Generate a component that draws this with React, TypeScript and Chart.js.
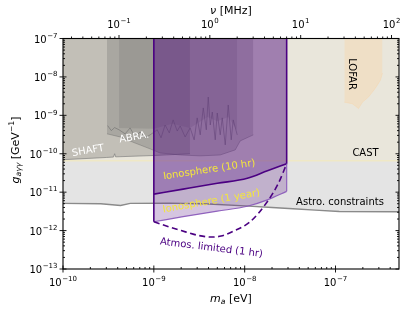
import React, { useEffect, useRef } from "react";
import { Chart, registerables } from "chart.js";
Chart.register(...registerables);

// ---------- axis ranges & ticks ----------
const X_MIN = 1e-10;
const X_MAX = 5e-7;
const Y_MIN = 1e-13;
const Y_MAX = 1e-7;
const EV_TO_MHZ = 2.417989e8; // MHz per eV

const xMajorTicks = [1e-10, 1e-9, 1e-8, 1e-7];
const xMajorExps = ["−10", "−9", "−8", "−7"];
const yMajorTicks = [1e-13, 1e-12, 1e-11, 1e-10, 1e-9, 1e-8, 1e-7];
const yMajorExps = ["−13", "−12", "−11", "−10", "−9", "−8", "−7"];
const nuMajorTicks = [0.1, 1, 10, 100];
const nuMajorExps = ["−1", "0", "1", "2"];

// ---------- data (m_a in eV, g in GeV^-1) ----------
const astroMass = [1e-11, 1e-10, 2.6e-10, 4.3e-10, 5.5e-10, 1.5e-9, 4e-9, 1e-8, 2e-8, 3.4e-8, 6e-8, 1.1e-7, 5e-7];
const astroG = [5.1e-12, 5.1e-12, 5.0e-12, 4.5e-12, 5.1e-12, 5.2e-12, 4.9e-12, 4.4e-12, 4.0e-12, 3.7e-12, 3.4e-12, 3.15e-12, 3.1e-12];

const castMass = [1e-11, 5e-7];
const castG = [6.6e-11, 6.6e-11];

const lofarMass = [1.25e-7, 1.53e-7, 1.68e-7, 1.79e-7, 1.98e-7, 2.31e-7, 2.75e-7, 3.13e-7, 3.29e-7];
const lofarG = [2.2e-9, 2.0e-9, 1.7e-9, 1.5e-9, 2.2e-9, 3.0e-9, 5.1e-9, 8.3e-9, 1.26e-8];

const shaftMass = [1e-11, 1e-10, 3e-10, 3.6e-10, 3.7e-10, 3.8e-10, 1e-9, 2.5e-9];
const shaftG = [6e-11, 7e-11, 8e-11, 8.2e-11, 1.0e-10, 8.3e-11, 9e-11, 1e-10];

const abraOuterMass = [3.05e-10, 4.25e-10, 6.22e-10, 9.1e-10, 1.17e-9, 1.95e-9, 3.24e-9, 5.38e-9, 7.87e-9, 8.93e-9, 1.245e-8];
const abraOuterG = [3.3e-10, 2.74e-10, 1.9e-10, 1.34e-10, 1.05e-10, 9.3e-11, 8.8e-11, 9.3e-11, 1.26e-10, 2.16e-10, 3.1e-10];

const abraInnerMass = [4.14e-10, 1e-9, 1.6e-9, 2.5e-9, 3.9e-9, 5e-9, 6.6e-9, 8.28e-9];
const abraInnerG = [4.7e-10, 4.5e-10, 6e-10, 4.7e-10, 9e-10, 7e-10, 9e-10, 4e-10];

const abraNoiseMass = [3.1e-10, 3.4e-10, 3.7e-10, 4.14e-10, 4.83e-10, 5.48e-10, 6.22e-10, 7.06e-10, 8.02e-10, 9.1e-10, 1.09e-9, 1.2e-9, 1.33e-9, 1.48e-9, 1.63e-9, 1.81e-9, 1.95e-9, 2.21e-9, 2.51e-9, 2.78e-9, 3.0e-9, 3.24e-9, 3.5e-9, 3.78e-9, 3.97e-9, 4.18e-9, 4.4e-9, 4.74e-9, 4.99e-9, 5.38e-9, 5.66e-9, 6.11e-9, 6.59e-9, 7.11e-9, 7.48e-9, 8.28e-9];
const abraNoiseG = [5.4e-10, 4.0e-10, 4.8e-10, 4.2e-10, 3.3e-10, 4.7e-10, 2.74e-10, 3.7e-10, 2.6e-10, 3.1e-10, 4.2e-10, 2.6e-10, 5.6e-10, 3.5e-10, 7.6e-10, 3.9e-10, 5.3e-10, 2.74e-10, 4.7e-10, 2.3e-10, 8.6e-10, 3.1e-10, 1.56e-9, 4.2e-10, 3.0e-9, 5.6e-10, 1.22e-9, 2.3e-10, 1.15e-9, 3.1e-10, 8.6e-10, 1.7e-10, 1.86e-9, 2.3e-10, 7.6e-10, 3.1e-10];

const ionMass = [1e-9, 2.1e-9, 5e-9, 1.07e-8, 1.78e-8, 2.9e-8];
const ion10hrG = [8.9e-12, 1.2e-11, 1.7e-11, 2.3e-11, 3.6e-11, 5.5e-11];
const ion1yrG = [1.7e-12, 2.3e-12, 3.2e-12, 4.3e-12, 6.3e-12, 1.05e-11];

const atmosMass = [1e-9, 1.4e-9, 2e-9, 3e-9, 4.2e-9, 5.5e-9, 7.4e-9, 1.15e-8, 1.78e-8, 2.35e-8, 2.9e-8];
const atmosG = [1.7e-12, 1.3e-12, 1.0e-12, 7.6e-13, 6.8e-13, 7.2e-13, 9.5e-13, 1.7e-12, 5.7e-12, 1.7e-11, 5.5e-11];

// ---------- styling ----------
const FONT = '"DejaVu Sans", sans-serif';
const INDIGO = "#4b0082";
const LIGHT_PURPLE_LINE = "rgba(135,85,185,0.9)";
const YELLOW = "#f4e63c";

const annotations = [
  { text: "SHAFT", x: 1.89e-10, y: 1.19e-10, rot: -10, color: "#ffffff" },
  { text: "ABRA.", x: 6.07e-10, y: 2.66e-10, rot: -10, color: "#ffffff" },
  { text: "Ionosphere (10 hr)", x: 4.07e-9, y: 3.8e-11, rot: -8.5, color: YELLOW },
  { text: "Ionosphere (1 year)", x: 4.3e-9, y: 5.75e-12, rot: -10, color: YELLOW },
  { text: "Atmos. limited (1 hr)", x: 4.3e-9, y: 3.5e-13, rot: 7, color: INDIGO },
  { text: "CAST", x: 2.14e-7, y: 1.05e-10, rot: 0, color: "#000000" },
  { text: "Astro. constraints", x: 1.12e-7, y: 5.27e-12, rot: 0, color: "#000000" },
  { text: "LOFAR", x: 1.5e-7, y: 1.19e-8, rot: 90, color: "#000000" },
];

type Run = { t: string; it?: boolean; sub?: boolean; sup?: boolean };
const xLabelRuns: Run[] = [{ t: "m", it: true }, { t: "a", it: true, sub: true }, { t: " [eV]" }];
const yLabelRuns: Run[] = [
  { t: "g", it: true },
  { t: "aγγ", it: true, sub: true },
  { t: " [GeV" },
  { t: "−1", sup: true },
  { t: "]" },
];
const topLabelRuns: Run[] = [{ t: "ν", it: true }, { t: " [MHz]" }];

const pts = (xs: number[], ys: number[]) => xs.map((x, i) => ({ x, y: ys[i] }));

function area(xs: number[], ys: number[], bg: string, border: string, bw: number, extra: any = {}) {
  return { data: pts(xs, ys), fill: "end", backgroundColor: bg, borderColor: border, borderWidth: bw, pointRadius: 0, tension: 0, ...extra };
}
function line(xs: number[], ys: number[], color: string, bw: number, extra: any = {}) {
  return { data: pts(xs, ys), fill: false, borderColor: color, borderWidth: bw, pointRadius: 0, tension: 0, ...extra };
}

function runsWidth(ctx: CanvasRenderingContext2D, runs: Run[], fs: number) {
  let w = 0;
  for (const r of runs) {
    const size = r.sub || r.sup ? fs * 0.7 : fs;
    ctx.font = `${r.it ? "italic " : ""}${size}px ${FONT}`;
    w += ctx.measureText(r.t).width;
  }
  return w;
}
function drawRuns(ctx: CanvasRenderingContext2D, runs: Run[], x: number, y: number, fs: number) {
  let cx = x;
  ctx.textAlign = "left";
  ctx.textBaseline = "alphabetic";
  for (const r of runs) {
    const size = r.sub || r.sup ? fs * 0.7 : fs;
    ctx.font = `${r.it ? "italic " : ""}${size}px ${FONT}`;
    const dy = r.sub ? fs * 0.22 : r.sup ? -fs * 0.42 : 0;
    ctx.fillText(r.t, cx, y + dy);
    cx += ctx.measureText(r.t).width;
  }
}
function drawPow(ctx: CanvasRenderingContext2D, exp: string, x: number, baseY: number, align: "center" | "right") {
  ctx.font = `10px ${FONT}`;
  const w1 = ctx.measureText("10").width;
  ctx.font = `7px ${FONT}`;
  const w2 = ctx.measureText(exp).width;
  const total = w1 + w2 + 0.5;
  const x0 = align === "center" ? x - total / 2 : x - total;
  ctx.textAlign = "left";
  ctx.textBaseline = "alphabetic";
  ctx.font = `10px ${FONT}`;
  ctx.fillText("10", x0, baseY);
  ctx.font = `7px ${FONT}`;
  ctx.fillText(exp, x0 + w1 + 0.5, baseY - 4.8);
}

function minorTicks(lo: number, hi: number) {
  const out: number[] = [];
  for (let k = Math.floor(Math.log10(lo)) - 1; k <= Math.ceil(Math.log10(hi)); k++) {
    for (let m = 2; m <= 9; m++) {
      const v = m * Math.pow(10, k);
      if (v > lo * 1.001 && v < hi * 0.999) out.push(v);
    }
  }
  return out;
}

const decorPlugin = {
  id: "decor",
  afterDatasetsDraw(chart: any) {
    const ctx: CanvasRenderingContext2D = chart.ctx;
    const xs = chart.scales.x;
    const ys = chart.scales.y;
    ctx.save();
    for (const a of annotations) {
      const px = xs.getPixelForValue(a.x);
      const py = ys.getPixelForValue(a.y);
      ctx.save();
      ctx.translate(px, py);
      ctx.rotate((a.rot * Math.PI) / 180);
      ctx.font = `10px ${FONT}`;
      ctx.fillStyle = a.color;
      ctx.textAlign = "center";
      ctx.textBaseline = "middle";
      ctx.fillText(a.text, 0, 0);
      ctx.restore();
    }
    ctx.restore();
  },
  afterDraw(chart: any) {
    const ctx: CanvasRenderingContext2D = chart.ctx;
    const xs = chart.scales.x;
    const ys = chart.scales.y;
    const { left, right, top, bottom } = chart.chartArea;
    ctx.save();
    ctx.strokeStyle = "#000";
    ctx.fillStyle = "#000";
    ctx.lineWidth = 1.1;
    ctx.strokeRect(left, top, right - left, bottom - top);
    ctx.lineWidth = 0.9;
    const seg = (x1: number, y1: number, x2: number, y2: number) => {
      ctx.beginPath();
      ctx.moveTo(x1, y1);
      ctx.lineTo(x2, y2);
      ctx.stroke();
    };
    xMajorTicks.forEach((v, i) => {
      const px = xs.getPixelForValue(v);
      seg(px, bottom - 3.5, px, bottom + 3.5);
      drawPow(ctx, xMajorExps[i], px, 286, "center");
    });
    minorTicks(X_MIN, X_MAX).forEach((v) => {
      const px = xs.getPixelForValue(v);
      seg(px, bottom, px, bottom - 2);
    });
    yMajorTicks.forEach((v, i) => {
      const py = ys.getPixelForValue(v);
      seg(left - 3.5, py, left + 3.5, py);
      seg(right, py, right - 3.5, py);
      drawPow(ctx, yMajorExps[i], 57.5, py + 4, "right");
    });
    minorTicks(Y_MIN, Y_MAX).forEach((v) => {
      const py = ys.getPixelForValue(v);
      seg(left, py, left + 2, py);
      seg(right, py, right - 2, py);
    });
    nuMajorTicks.forEach((v, i) => {
      const px = xs.getPixelForValue(v / EV_TO_MHZ);
      seg(px, top, px, top - 3.5);
      drawPow(ctx, nuMajorExps[i], px, 28, "center");
    });
    minorTicks(X_MIN * EV_TO_MHZ, X_MAX * EV_TO_MHZ).forEach((v) => {
      const px = xs.getPixelForValue(v / EV_TO_MHZ);
      seg(px, top, px, top - 2);
    });
    const fs = 11;
    const wx = runsWidth(ctx, xLabelRuns, fs);
    drawRuns(ctx, xLabelRuns, (left + right) / 2 - wx / 2, 302, fs);
    const wt = runsWidth(ctx, topLabelRuns, fs);
    drawRuns(ctx, topLabelRuns, (left + right) / 2 - wt / 2, 14, fs);
    const wy = runsWidth(ctx, yLabelRuns, fs);
    ctx.save();
    ctx.translate(19, 150);
    ctx.rotate(-Math.PI / 2);
    drawRuns(ctx, yLabelRuns, -wy / 2, 0, fs);
    ctx.restore();
    ctx.restore();
  },
};

export default function App() {
  const ref = useRef<HTMLCanvasElement>(null);
  useEffect(() => {
    const last = ionMass.length - 1;
    const datasets: any[] = [
      area(astroMass, astroG, "#e4e4e4", "#8a8a8a", 1.4),
      area(castMass, castG, "#e9e6db", "#efe8c6", 1.5),
      area(lofarMass, lofarG, "rgba(255,210,150,0.3)", "rgba(250,205,150,0.35)", 0.8),
      area(shaftMass, shaftG, "#c2bfb7", "rgba(120,120,120,0.7)", 0.9),
      area(abraOuterMass, abraOuterG, "rgba(100,100,100,0.26)", "rgba(100,100,100,0.5)", 0.8),
      area(abraInnerMass, abraInnerG, "rgba(100,100,100,0.2)", "rgba(0,0,0,0)", 0),
      line(abraNoiseMass, abraNoiseG, "rgba(105,105,105,0.55)", 1),
      area(ionMass, ion1yrG, "rgba(87,24,132,0.25)", LIGHT_PURPLE_LINE, 1.2, { cubicInterpolationMode: "monotone" }),
      area(ionMass, ion10hrG, "rgba(87,24,132,0.33)", INDIGO, 1.6, { cubicInterpolationMode: "monotone" }),
      line([ionMass[0], ionMass[0]], [Y_MAX, ion1yrG[0]], INDIGO, 1.6),
      line([ionMass[last], ionMass[last]], [Y_MAX, ion10hrG[last]], INDIGO, 1.6),
      line([ionMass[last], ionMass[last]], [ion10hrG[last], ion1yrG[last]], LIGHT_PURPLE_LINE, 1.2),
      line(atmosMass, atmosG, INDIGO, 1.6, { borderDash: [6, 3.5], cubicInterpolationMode: "monotone" }),
    ];
    datasets.forEach((d, i) => (d.order = datasets.length - i));
    const chart = new Chart(ref.current as HTMLCanvasElement, {
      type: "line",
      data: { datasets },
      options: {
        animation: false,
        responsive: false,
        devicePixelRatio: 1,
        events: [],
        layout: { padding: { left: 63, top: 38.5, right: 8, bottom: 42 } },
        plugins: { legend: { display: false }, tooltip: { enabled: false } },
        scales: {
          x: { type: "logarithmic", min: X_MIN, max: X_MAX, display: false },
          y: { type: "logarithmic", min: Y_MIN, max: Y_MAX, display: false },
        },
      } as any,
      plugins: [decorPlugin],
    });
    return () => chart.destroy();
  }, []);
  return (
    <div style={{ position: "fixed", left: 0, top: 0, width: 407, height: 311, background: "#fff" }}>
      <canvas ref={ref} width={407} height={311} style={{ display: "block", width: 407, height: 311 }} />
    </div>
  );
}
